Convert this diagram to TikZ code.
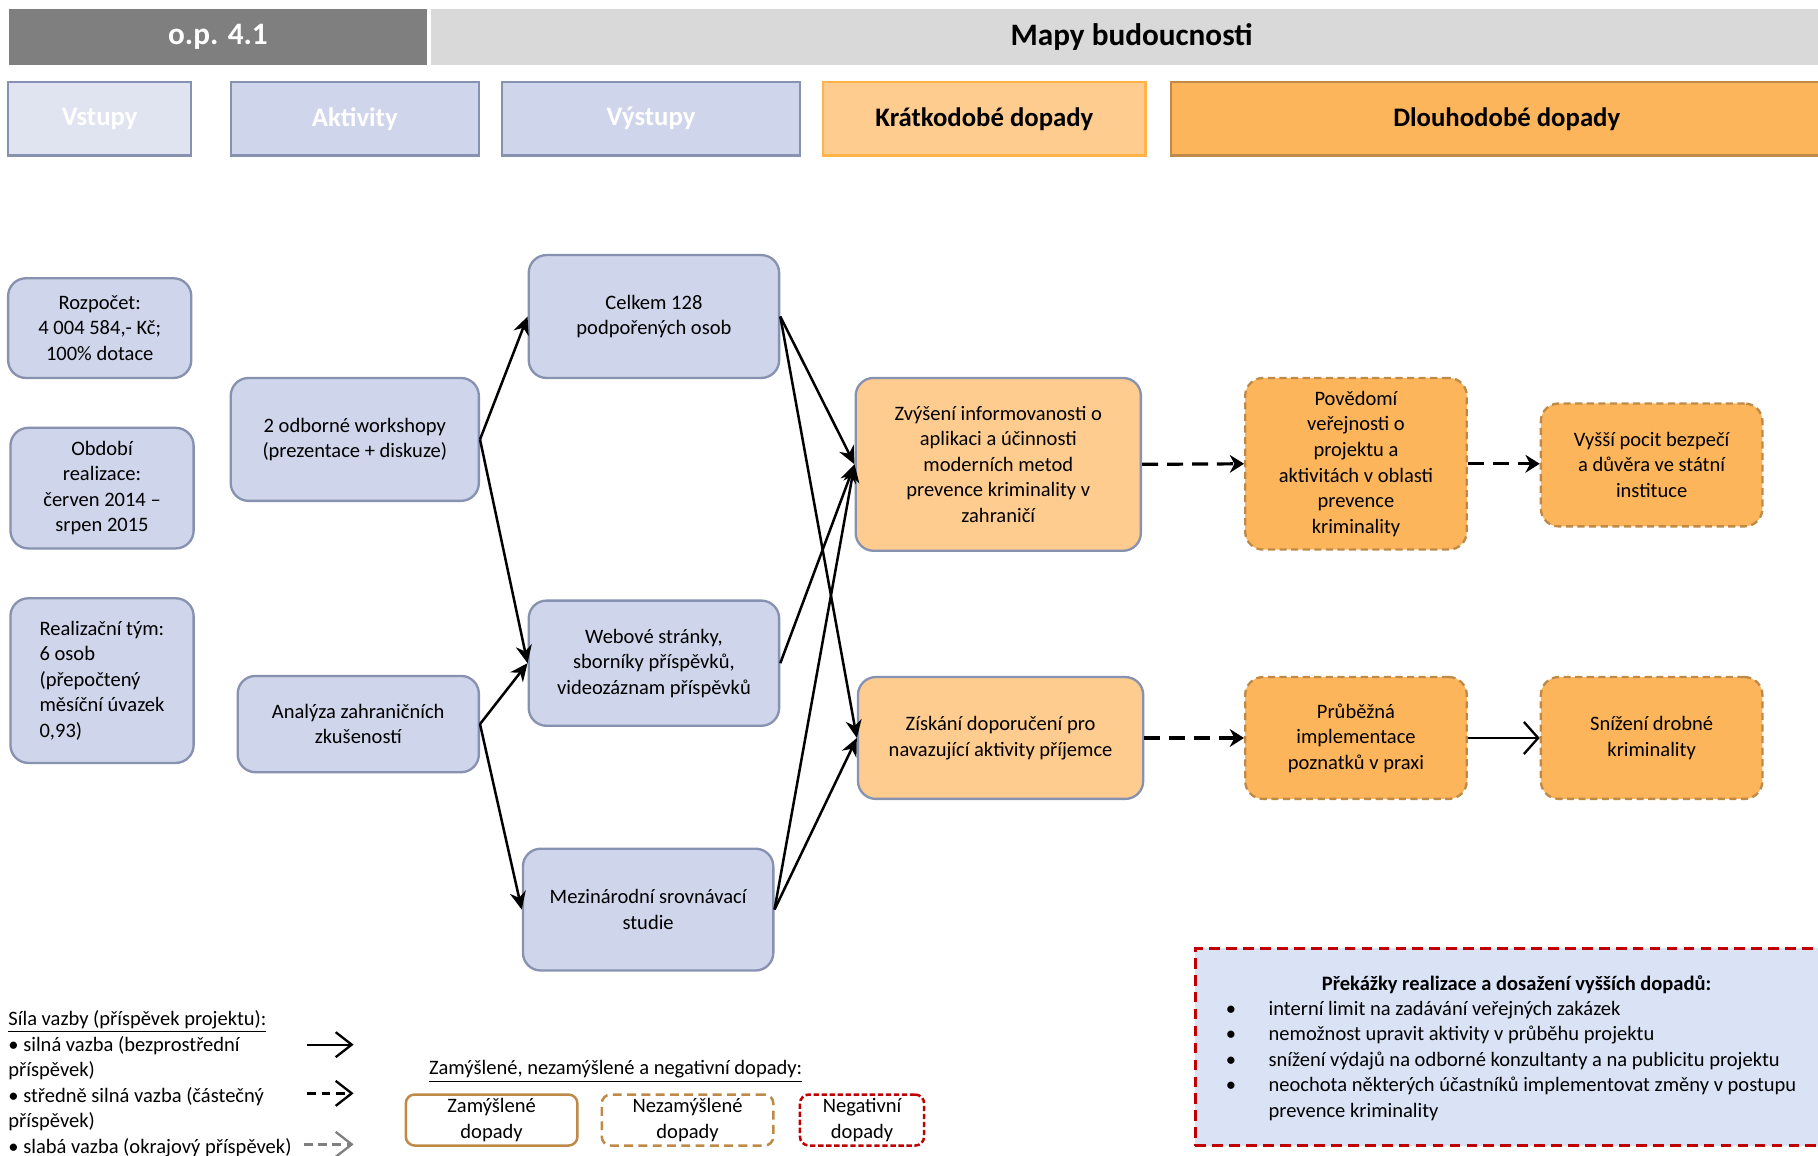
\documentclass[tikz,border=0pt]{standalone}
\usepackage{fontspec}
\setmainfont{Carlito}
\usetikzlibrary{arrows.meta}
\definecolor{opgrey}{HTML}{7F7F7F}
\definecolor{bargrey}{HTML}{D9D9D9}
\definecolor{lav}{HTML}{CFD5EA}
\definecolor{lavlight}{HTML}{E0E4F1}
\definecolor{lavline}{HTML}{8791B0}
\definecolor{shortor}{HTML}{FFCC90}
\definecolor{shortline}{HTML}{FFB348}
\definecolor{longor}{HTML}{FDB55B}
\definecolor{longline}{HTML}{BF8A48}
\definecolor{obstred}{HTML}{C00000}
\definecolor{obstfill}{HTML}{DAE3F5}
\newcommand{\bodyfont}{\fontsize{11.5}{14.3}\selectfont}
\newcommand{\headfont}{\fontsize{15}{18}\selectfont\bfseries}

\begin{document}
\begin{tikzpicture}[x=0.65pt, y=-0.65pt,
	head/.style={draw=lavline, line width=1.3pt, fill=lav, text=white, font=\headfont, minimum height=41pt},
	box/.style={draw=lavline, line width=1.3pt, fill=lav, rounded corners=10pt, align=center, font=\bodyfont, inner sep=2pt},
	impact/.style={box, fill=longor, draw=longline, dash pattern=on 4pt off 2.5pt},
	link/.style={-{Stealth[length=10pt, width=9pt]}, line width=1.4pt},
	weaklink/.style={-{Stealth[length=8pt, width=10pt]}, line width=1.8pt, dash pattern=on 9pt off 5pt},
	barb/.style={-{Straight Barb[length=8pt, width=18pt]}, line width=1.3pt},
	legarrow/.style={-{Straight Barb[length=9pt, width=14pt]}, line width=1.3pt},
	legbox/.style={rounded corners=5pt, line width=1.4pt, minimum width=96.2pt, minimum height=28.6pt, align=center, font=\bodyfont, inner sep=0pt}]
	\useasboundingbox (0,0) rectangle (1568,997);

	\node[fill=opgrey, minimum width=234pt, minimum height=31.2pt, text=white, font=\fontsize{17.5}{20}\selectfont\bfseries] (op) at (188,32) {o.p. 4.1};
	\node[fill=bargrey, minimum width=785.2pt, minimum height=31.2pt, font=\fontsize{17.5}{20}\selectfont\bfseries] (mapy) at (976,32) {Mapy budoucnosti};

	\node[head, fill=lavlight, minimum width=102.7pt] (vstupy) at (86,102.5) {Vstupy};
	\node[head, minimum width=139.1pt] (aktivity) at (306,102.5) {Aktivity};
	\node[head, minimum width=167pt] (vystupy) at (561.5,102.5) {Výstupy};
	\node[head, fill=shortor, draw=shortline, text=black, minimum width=180.7pt] (kratko) at (849,102.5) {Krátkodobé dopady};
	\node[head, fill=longor, draw=longline, text=black, minimum width=376.4pt] (dlouho) at (1299.5,102.5) {Dlouhodobé dopady};

	\node[box, minimum width=102.7pt, minimum height=55.9pt] (rozpocet) at (86,283) {Rozpočet:\\4 004 584,- Kč;\\100\% dotace};
	\node[box, minimum width=102.7pt, minimum height=67.6pt] (obdobi) at (88,421) {Období\\realizace:\\červen 2014 –\\srpen 2015};
	\node[box, align=left, minimum width=102.7pt, minimum height=92.3pt] (tym) at (88,587) {Realizační tým:\\6 osob\\(přepočtený\\měsíční úvazek\\0,93)};
	\node[box, minimum width=139.1pt, minimum height=68.9pt] (workshopy) at (306,379) {2 odborné workshopy\\(prezentace + diskuze)};
	\node[box, minimum width=135.2pt, minimum height=54pt] (analyza) at (309,624.5) {Analýza zahraničních\\zkušeností};
	\node[box, minimum width=140.4pt, minimum height=68.9pt] (celkem) at (564,273) {Celkem 128\\podpořených osob};
	\node[box, minimum width=140.4pt, minimum height=70.2pt] (web) at (564,572) {Webové stránky,\\sborníky příspěvků,\\videozáznam příspěvků};
	\node[box, minimum width=140.4pt, minimum height=68.3pt] (studie) at (559,784.5) {Mezinárodní srovnávací\\studie};
	\node[box, fill=shortor, minimum width=159.9pt, minimum height=96.9pt] (informovanost) at (861,400.5) {Zvýšení informovanosti o\\aplikaci a účinnosti\\moderních metod\\prevence kriminality v\\zahraničí};
	\node[box, fill=shortor, minimum width=159.9pt, minimum height=68.3pt] (doporuceni) at (863,636.5) {Získání doporučení pro\\navazující aktivity příjemce};
	\node[impact, minimum width=124.2pt, minimum height=96.2pt] (povedomi) at (1169.5,400) {Povědomí\\veřejnosti o\\projektu a\\aktivitách v oblasti\\prevence\\kriminality};
	\node[impact, minimum width=124.2pt, minimum height=68.9pt] (pocit) at (1424.5,401) {Vyšší pocit bezpečí\\a důvěra ve státní\\instituce};
	\node[impact, minimum width=124.2pt, minimum height=68.3pt] (implementace) at (1169.5,636.5) {Průběžná\\implementace\\poznatků v praxi};
	\node[impact, minimum width=124.2pt, minimum height=68.3pt] (snizeni) at (1424.5,636.5) {Snížení drobné\\kriminality};

	\draw[link] (workshopy.east) -- (celkem.west);
	\draw[link] (workshopy.east) -- (web.west);
	\draw[link] (analyza.east) -- (web.west);
	\draw[link] (analyza.east) -- (studie.west);
	\draw[link] (celkem.east) -- (informovanost.west);
	\draw[link] (celkem.east) -- (doporuceni.west);
	\draw[link] (web.east) -- (informovanost.west);
	\draw[link] (studie.east) -- (informovanost.west);
	\draw[link] (studie.east) -- (doporuceni.west);
	\draw[weaklink] (informovanost.east) -- (povedomi.west);
	\draw[weaklink] (povedomi.east) -- (povedomi.east -| pocit.west);
	\draw[weaklink] (doporuceni.east) -- (implementace.west);
	\draw[barb] (implementace.east) -- (snizeni.west);

	\node[anchor=north west, inner sep=0pt, font=\bodyfont] (silalegend) at (7,869) {\begin{tabular}{@{}l@{}}\underline{Síla vazby (příspěvek projektu):}\\• silná vazba (bezprostřední\\příspěvek)\\• středně silná vazba (částečný\\příspěvek)\\• slabá vazba (okrajový příspěvek)\end{tabular}};
	\coordinate (strongA) at (265,901);
	\coordinate (strongB) at (305,901);
	\coordinate (midA) at (265,943);
	\coordinate (midB) at (305,943);
	\coordinate (weakA) at (262,987);
	\coordinate (weakB) at (305,987);
	\draw[legarrow] (strongA) -- (strongB);
	\draw[legarrow, dash pattern=on 5pt off 3pt] (midA) -- (midB);
	\draw[legarrow, opgrey, dash pattern=on 5pt off 3pt] (weakA) -- (weakB);

	\node[font=\bodyfont] (dopadylegend) at (531,924) {\underline{Zamýšlené, nezamýšlené a negativní dopady:}};
	\node[legbox, draw=longline] (zamyslene) at (424,966) {Zamýšlené\\dopady};
	\node[legbox, draw=longline, dash pattern=on 5pt off 3pt] (nezamyslene) at (593,966) {Nezamýšlené\\dopady};
	\node[legbox, draw=obstred, dash pattern=on 3pt off 1.5pt, minimum width=69.6pt] (negativni) at (743.5,966) {Negativní\\dopady};

	\node[draw=obstred, fill=obstfill, line width=1.5pt, dash pattern=on 6pt off 3.5pt, minimum width=360.1pt, minimum height=110.5pt] (prekazky) at (1308,903) {};
	\node[font=\bodyfont\bfseries] (prekazkytitle) at (1308,849) {Překážky realizace a dosažení vyšších dopadů:};
	\node[anchor=north west, inner sep=0pt, font=\bodyfont] (prekazkylist) at (1057,860) {\begin{tabular}{@{}p{24pt}@{}l@{}}
		•&interní limit na zadávání veřejných zakázek\\
		•&nemožnost upravit aktivity v průběhu projektu\\
		•&snížení výdajů na odborné konzultanty a na publicitu projektu\\
		•&neochota některých účastníků implementovat změny v postupu\\
		&prevence kriminality
	\end{tabular}};
\end{tikzpicture}
\end{document}
